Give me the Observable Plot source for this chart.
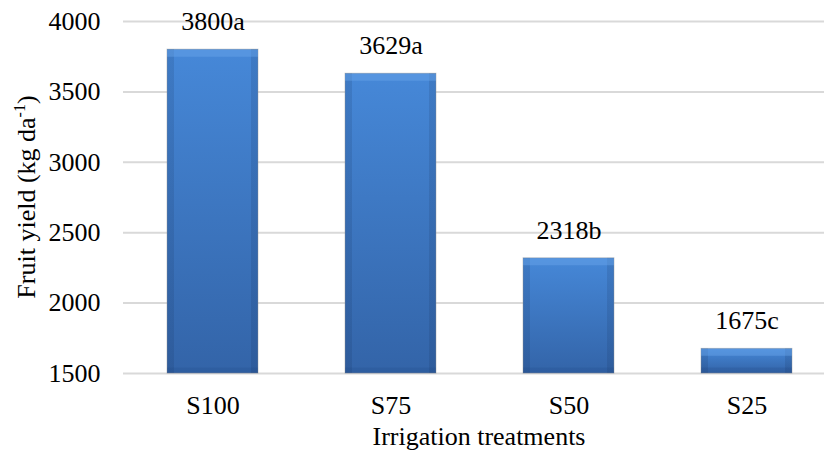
<!DOCTYPE html>
<html>
<head>
<meta charset="utf-8">
<script src="https://cdn.jsdelivr.net/npm/d3@7"></script>
<script src="https://cdn.jsdelivr.net/npm/@observablehq/plot@0.6"></script>
<style>
  html, body { margin: 0; padding: 0; background: #fff; }
  #chart { width: 824px; height: 458px; }
  #chart svg, #chart svg text { font-family: "Times New Roman", "Liberation Serif", "DejaVu Serif", serif !important; }
</style>
</head>
<body>
<div id="chart"></div>
<script>
const treatments = ["S100", "S75", "S50", "S25"];
const yields = [3800, 3629, 2318, 1675];
const letters = ["a", "a", "b", "c"];
const yTicks = [1500, 2000, 2500, 3000, 3500, 4000];
const xTitle = "Irrigation treatments";
const yTitleMain = "Fruit yield (kg da";
const yTitleSup = "-1";
const yTitleEnd = ")";

const data = treatments.map((t, i) => ({treatment: t, yield: yields[i], label: yields[i] + letters[i]}));
const FONT = '"Times New Roman", "Liberation Serif", "DejaVu Serif", serif';

const svg = Plot.plot({
  width: 824,
  height: 458,
  marginLeft: 123,
  marginRight: 0,
  marginTop: 21,
  marginBottom: 85,
  style: {fontFamily: FONT, fontSize: "26px", color: "#000", background: "#fff"},
  x: {domain: treatments, range: [123, 836], paddingInner: 0.49, paddingOuter: 0.245, label: null},
  y: {domain: [1500, 4000], ticks: yTicks, label: null},
  marks: [
    Plot.ruleY(yTicks, {stroke: "#d9d9d9", strokeWidth: 2}),
    Plot.barY(data, {x: "treatment", y1: 1500, y2: "yield", fill: "url(#barGrad)", stroke: "#9a9a9a", strokeOpacity: 0.45, strokeWidth: 1}),
    Plot.barY(data, {x: "treatment", y1: 1500, y2: "yield", fill: "url(#sideGrad)"}),
    Plot.tickY(data, {x: "treatment", y: "yield", stroke: "#6aa6ec", strokeWidth: 7, dy: 3.5, strokeOpacity: 0.45}),
    Plot.tickY(data, {x: "treatment", y: 1500, stroke: "#1f4780", strokeWidth: 6, dy: -3, strokeOpacity: 0.2}),
    Plot.axisY({ticks: yTicks, tickSize: 0, tickPadding: 23, fontSize: 26, tickFormat: d => String(d), label: null}),
    Plot.axisX({tickSize: 0, tickPadding: 22, fontSize: 26, label: null}),
    Plot.text(data, {x: "treatment", y: "yield", text: "label", dy: -28, lineAnchor: "middle", fontSize: 26, fill: "#000"})
  ]
});

const s = d3.select(svg);
const defs = s.insert("defs", ":first-child");
const g1 = defs.append("linearGradient").attr("id", "barGrad").attr("x1", 0).attr("y1", 0).attr("x2", 0).attr("y2", 1);
g1.append("stop").attr("offset", 0).attr("stop-color", "#4688d8");
g1.append("stop").attr("offset", 1).attr("stop-color", "#3364a8");
const g2 = defs.append("linearGradient").attr("id", "sideGrad").attr("x1", 0).attr("y1", 0).attr("x2", 1).attr("y2", 0);
[[0, 0.14], [0.075, 0.14], [0.08, 0], [0.92, 0], [0.925, 0.14], [1, 0.14]].forEach(([o, a]) => {
  g2.append("stop").attr("offset", o).attr("stop-color", "#10284f").attr("stop-opacity", a);
});

s.append("text")
  .attr("x", 479)
  .attr("y", 445)
  .attr("text-anchor", "middle")
  .attr("font-family", FONT)
  .attr("font-size", 26)
  .attr("fill", "#000")
  .text(xTitle);

const yt = s.append("text")
  .attr("transform", "translate(35,197) rotate(-90)")
  .attr("text-anchor", "middle")
  .attr("font-family", FONT)
  .attr("font-size", 26)
  .attr("fill", "#000");
yt.append("tspan").text(yTitleMain);
yt.append("tspan").attr("dy", -10).attr("font-size", 16).text(yTitleSup);
yt.append("tspan").attr("dy", 10).text(yTitleEnd);

document.getElementById("chart").appendChild(svg);
</script>
</body>
</html>
